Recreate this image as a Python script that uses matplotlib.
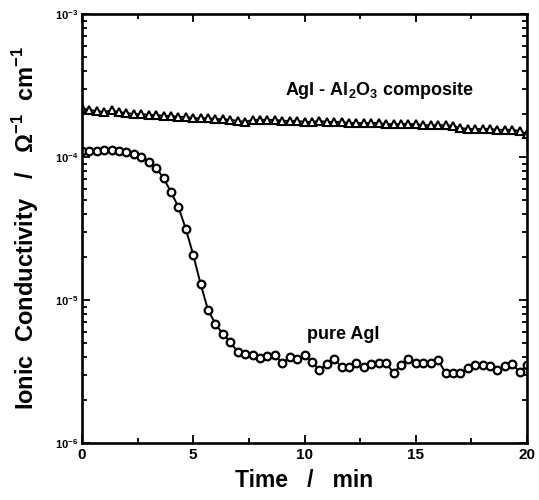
import numpy as np
import matplotlib
matplotlib.use("Agg")
import matplotlib.pyplot as plt
from matplotlib.ticker import LogLocator, MultipleLocator, FixedLocator

plt.rcParams['font.family'] = ['Liberation Sans', 'DejaVu Sans']
plt.rcParams['font.weight'] = 'bold'
plt.rcParams['mathtext.fontset'] = 'custom'
plt.rcParams['mathtext.rm'] = 'Liberation Sans:bold'
plt.rcParams['mathtext.bf'] = 'Liberation Sans:bold'

# time in min, one reading every 20 s
time_min = np.arange(61) / 3.0

# pure AgI (S/cm)
pure_agi = [
    1.10e-4, 1.10e-4, 1.10e-4, 1.12e-4, 1.12e-4, 1.10e-4, 1.08e-4, 1.05e-4,
    1.00e-4, 9.23e-5, 8.38e-5, 7.13e-5, 5.69e-5, 4.47e-5, 3.14e-5, 2.07e-5,
    1.29e-5, 8.5e-6, 6.8e-6, 5.78e-6, 5.08e-6, 4.33e-6, 4.19e-6, 4.12e-6,
    3.93e-6, 4.06e-6, 4.12e-6, 3.62e-6, 3.99e-6, 3.87e-6, 4.12e-6, 3.68e-6,
    3.24e-6, 3.56e-6, 3.87e-6, 3.40e-6, 3.40e-6, 3.62e-6, 3.40e-6, 3.56e-6,
    3.62e-6, 3.62e-6, 3.09e-6, 3.51e-6, 3.87e-6, 3.62e-6, 3.62e-6, 3.62e-6,
    3.80e-6, 3.09e-6, 3.09e-6, 3.09e-6, 3.34e-6, 3.51e-6, 3.51e-6, 3.45e-6,
    3.24e-6, 3.45e-6, 3.56e-6, 3.14e-6, 3.51e-6,
]

# AgI - Al2O3 composite (S/cm)
composite = [
    2.20e-4, 2.13e-4, 2.10e-4, 2.06e-4, 2.13e-4, 2.06e-4, 2.03e-4, 2.00e-4,
    2.00e-4, 1.97e-4, 1.97e-4, 1.94e-4, 1.94e-4, 1.91e-4, 1.91e-4, 1.87e-4,
    1.87e-4, 1.87e-4, 1.84e-4, 1.84e-4, 1.82e-4, 1.79e-4, 1.76e-4, 1.82e-4,
    1.82e-4, 1.82e-4, 1.82e-4, 1.79e-4, 1.79e-4, 1.79e-4, 1.76e-4, 1.76e-4,
    1.79e-4, 1.76e-4, 1.76e-4, 1.76e-4, 1.73e-4, 1.73e-4, 1.73e-4, 1.73e-4,
    1.73e-4, 1.70e-4, 1.70e-4, 1.70e-4, 1.70e-4, 1.70e-4, 1.67e-4, 1.67e-4,
    1.67e-4, 1.67e-4, 1.65e-4, 1.60e-4, 1.57e-4, 1.57e-4, 1.57e-4, 1.57e-4,
    1.55e-4, 1.55e-4, 1.55e-4, 1.52e-4, 1.45e-4,
]

fig = plt.figure(figsize=(5.39, 5.0), dpi=100)
ax = fig.add_axes([0.152, 0.114, 0.826, 0.858])

ax.plot(time_min, composite, '-', color='black', lw=1.3, marker='^',
        ms=5.5, mfc='white', mec='black', mew=1.5)
ax.plot(time_min, pure_agi, '-', color='black', lw=1.4, marker='o',
        ms=5.5, mfc='white', mec='black', mew=1.6)

ax.set_yscale('log')
ax.set_xlim(0, 20)
ax.set_ylim(1e-6, 1e-3)

ax.xaxis.set_major_locator(MultipleLocator(5))
ax.xaxis.set_minor_locator(MultipleLocator(2.5))
ax.yaxis.set_major_locator(FixedLocator([1e-6, 1e-5, 1e-4, 1e-3]))
ax.yaxis.set_minor_locator(LogLocator(base=10, subs=np.arange(2, 10)))
ax.set_yticklabels([r'$10^{-6}$', r'$10^{-5}$', r'$10^{-4}$', r'$10^{-3}$'],
                   fontsize=8)
ax.set_xticks([0, 5, 10, 15, 20])
ax.set_xticklabels(['0', '5', '10', '15', '20'], fontsize=11, fontweight='bold')

ax.tick_params(which='both', direction='in', top=True, right=True, width=1.3)
ax.tick_params(which='major', length=6)
ax.tick_params(which='minor', length=3.5)
ax.tick_params(axis='y', which='major', pad=3)
for s in ax.spines.values():
    s.set_linewidth(1.9)

ax.set_xlabel('Time   /   min', fontsize=16.5, fontweight='bold', labelpad=5)
ax.set_ylabel(r'Ionic  Conductivity   /   $\Omega^{-1}$  cm$^{-1}$',
              fontsize=17, fontweight='bold', labelpad=10)

ax.text(9.1, 2.9e-4, r'AgI - Al$_2$O$_3$ composite', fontsize=13,
        fontweight='bold', ha='left', va='center')
ax.text(10.1, 5.7e-6, 'pure AgI', fontsize=13, fontweight='bold',
        ha='left', va='center')

fig.savefig('out.png', dpi=100)
